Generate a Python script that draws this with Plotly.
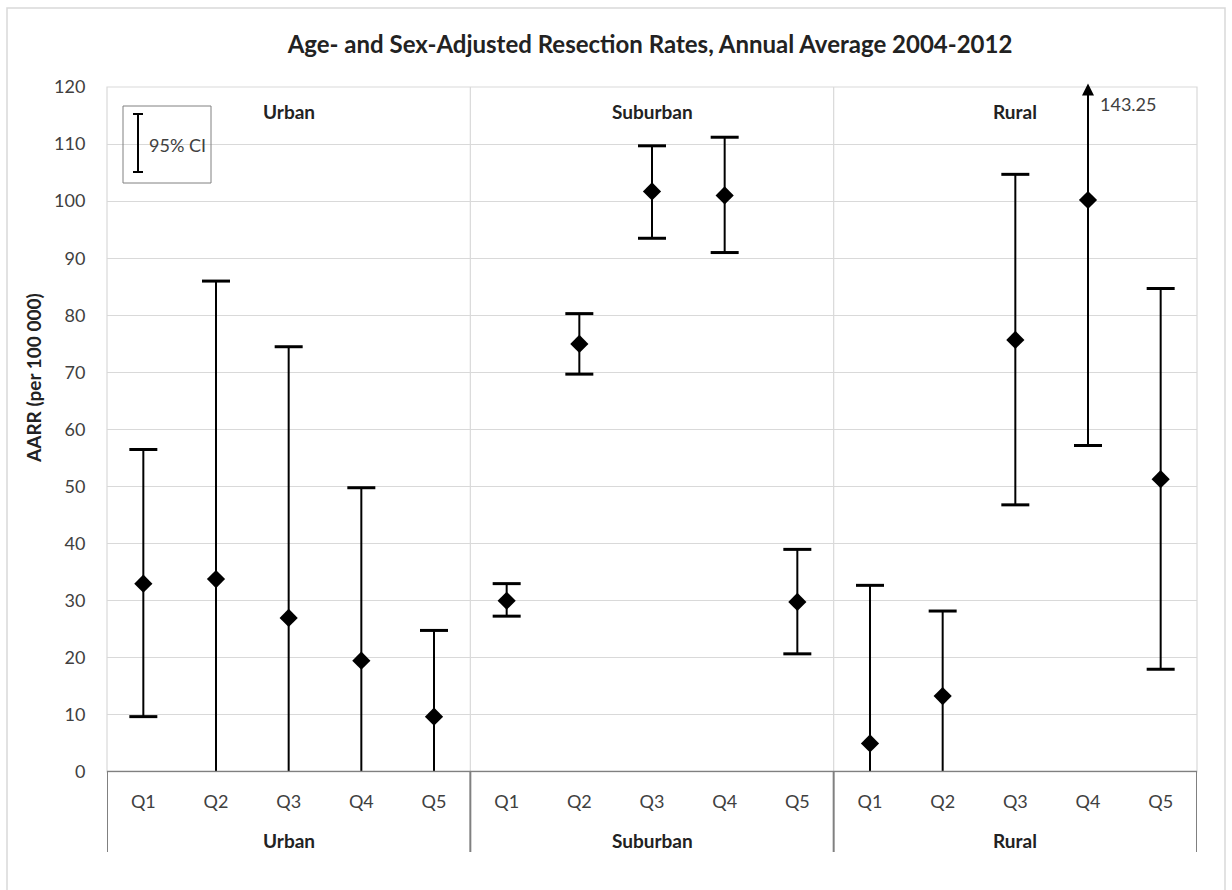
import plotly.graph_objects as go

# ---------------- data ----------------
groups = ["Urban", "Suburban", "Rural"]
quintiles = ["Q1", "Q2", "Q3", "Q4", "Q5"]

aarr = [33.0, 33.8, 27.0, 19.5, 9.7,
        30.0, 75.0, 101.7, 101.0, 29.8,
        5.0, 13.3, 75.7, 100.2, 51.3]
ci_high = [56.5, 86.0, 74.5, 49.8, 24.8,
           33.0, 80.3, 109.7, 111.2, 39.0,
           32.7, 28.2, 104.7, 143.25, 84.7]
# None = lower bound falls below the axis minimum (drawn to 0, no cap)
ci_low = [9.7, None, None, None, None,
          27.3, 69.7, 93.5, 91.0, 20.7,
          None, None, 46.8, 57.2, 18.0]

y_min, y_max = 0, 120
title = "Age- and Sex-Adjusted Resection Rates, Annual Average 2004-2012"
y_title = "AARR (per 100 000)"

FONT = "Lato"
INK = "#000000"
GRID = "#d9d9d9"
AXIS = "#808080"
TXT = "#404040"
DARK = "#222222"

n_q = len(quintiles)
xs = list(range(len(groups) * n_q))
tick_text = [q for g in groups for q in quintiles]

fig = go.Figure()

# CI lines
for x, lo, hi in zip(xs, ci_low, ci_high):
    lo_v = y_min if lo is None else lo
    fig.add_trace(go.Scatter(x=[x, x], y=[lo_v, hi], mode="lines",
                             line=dict(color=INK, width=2), hoverinfo="skip",
                             showlegend=False))

# caps
cap_x, cap_y = [], []
for x, lo, hi in zip(xs, ci_low, ci_high):
    if hi <= y_max:
        cap_x.append(x); cap_y.append(hi)
    if lo is not None:
        cap_x.append(x); cap_y.append(lo)
fig.add_trace(go.Scatter(x=cap_x, y=cap_y, mode="markers",
                         marker=dict(symbol="line-ew", size=20,
                                     line=dict(color=INK, width=3)),
                         hoverinfo="skip", showlegend=False))

# point estimates
fig.add_trace(go.Scatter(x=xs, y=aarr, mode="markers",
                         marker=dict(symbol="diamond", size=14, color=INK),
                         showlegend=False))

PW, PH = 1090, 685  # plot area in px

shapes = []
# plot frame (light)
shapes.append(dict(type="rect", xref="paper", yref="paper", x0=0, x1=1, y0=0, y1=1,
                   line=dict(color=GRID, width=1.2), layer="below"))
# outer chart border
shapes.append(dict(type="rect", xref="paper", yref="paper",
                   x0=-100/PW, x1=1118/PW, y0=-0.2, y1=764/PH,
                   line=dict(color="#d9d9d9", width=1.5)))
# group separators
for k in range(len(groups) + 1):
    xb = k * n_q - 0.5
    if 0 < k < len(groups):
        shapes.append(dict(type="line", xref="x", yref="paper", x0=xb, x1=xb, y0=0, y1=1,
                           line=dict(color=GRID, width=1.2), layer="below"))
    shapes.append(dict(type="line", xref="x", yref="paper", x0=xb, x1=xb, y0=0, y1=-80/PH,
                       line=dict(color=AXIS, width=2)))
# bottom axis line
shapes.append(dict(type="line", xref="paper", yref="y", x0=0, x1=1, y0=y_min, y1=y_min,
                   line=dict(color=AXIS, width=2.5)))
# legend box
shapes.append(dict(type="rect", xref="paper", yref="paper",
                   x0=16/PW, x1=104/PW, y0=(772-183)/PH, y1=(772-106)/PH,
                   line=dict(color="#808080", width=1)))
lx = 31/PW
shapes.append(dict(type="line", xref="paper", yref="paper", x0=lx, x1=lx,
                   y0=(772-172)/PH, y1=(772-114)/PH, line=dict(color=INK, width=2)))
for yy in (114, 172):
    shapes.append(dict(type="line", xref="paper", yref="paper",
                       x0=lx - 5/PW, x1=lx + 5/PW,
                       y0=(772-yy)/PH, y1=(772-yy)/PH, line=dict(color=INK, width=2)))

annotations = []
for gi, g in enumerate(groups):
    cx = gi * n_q + (n_q - 1) / 2
    # panel label inside plot
    annotations.append(dict(x=cx, y=(772-112)/PH, xref="x", yref="paper", text=g,
                            showarrow=False, yanchor="middle",
                            font=dict(family=FONT, size=19, color=DARK, weight="bold")))
    # group label under axis
    annotations.append(dict(x=cx, y=-(840-772)/PH, xref="x", yref="paper", text=g,
                            showarrow=False, yanchor="middle",
                            font=dict(family=FONT, size=19, color=DARK, weight="bold")))
annotations.append(dict(x=40/PW, y=(772-145)/PH, xref="paper", yref="paper",
                        text="95% CI", showarrow=False, xanchor="left", yanchor="middle",
                        font=dict(family=FONT, size=18, color=TXT)))
# y-axis title
annotations.append(dict(x=(33-107)/PW, y=(772-378)/PH, xref="paper", yref="paper",
                        text=f"<b>{y_title}</b>", showarrow=False, textangle=-90,
                        xanchor="center", yanchor="middle",
                        font=dict(family=FONT, size=19, color=DARK)))
# off-scale arrow for the rural Q4 upper bound
i_off = ci_high.index(max(ci_high))
annotations.append(dict(x=xs[i_off], y=y_max + 0.6, xref="x", yref="y",
                        ax=xs[i_off], ay=y_max - 2, axref="x", ayref="y",
                        text="", showarrow=True, arrowhead=2, arrowsize=1.2,
                        arrowwidth=2, arrowcolor=INK))
annotations.append(dict(x=xs[i_off], y=(772-104)/PH, xref="x", yref="paper",
                        text=f"{ci_high[i_off]:.2f}", showarrow=False, xanchor="left",
                        xshift=10, yanchor="middle",
                        font=dict(family=FONT, size=18, color=TXT)))

fig.update_layout(
    width=1232, height=890,
    margin=dict(l=107, r=35, t=87, b=118),
    paper_bgcolor="white", plot_bgcolor="white",
    title=dict(text=f"<b>{title}</b>", x=650/1232, xanchor="center", y=1 - 45/890,
               yanchor="middle", font=dict(family=FONT, size=24, color=DARK)),
    xaxis=dict(range=[-0.5, len(xs) - 0.5], tickmode="array", tickvals=xs,
               ticktext=tick_text, showgrid=False, zeroline=False, showline=False,
               ticks="outside", ticklen=13, tickcolor="rgba(0,0,0,0)",
               tickfont=dict(family=FONT, size=18, color=TXT), fixedrange=True),
    yaxis=dict(range=[y_min, y_max], dtick=10, showgrid=True, gridcolor=GRID, gridwidth=1.2,
               zeroline=False, showline=False, ticks="outside", ticklen=17,
               tickcolor="rgba(0,0,0,0)",
               tickfont=dict(family=FONT, size=18, color=TXT)),
    shapes=shapes, annotations=annotations,
    showlegend=False,
)

fig.write_html("out.html")
